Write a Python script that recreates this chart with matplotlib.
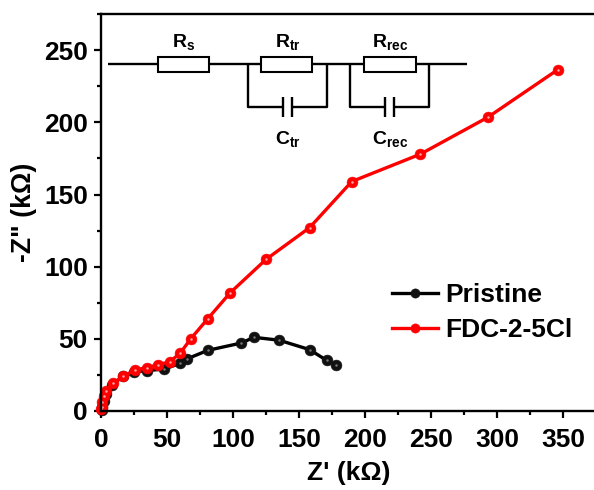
import numpy as np
import matplotlib
matplotlib.use("Agg")
import matplotlib.pyplot as plt
from matplotlib.patches import Rectangle
from matplotlib.ticker import MultipleLocator

plt.rcParams['font.family'] = ['Liberation Sans', 'DejaVu Sans']
plt.rcParams['font.weight'] = 'bold'
plt.rcParams['mathtext.fontset'] = 'custom'
plt.rcParams['mathtext.rm'] = 'Liberation Sans:bold'
plt.rcParams['mathtext.bf'] = 'Liberation Sans:bold'

pristine_x = [0.5, 1, 2, 3.5, 8, 17, 25, 35, 48, 60, 65, 81, 106, 116, 135, 158, 171, 178]
pristine_y = [0.5, 3, 7, 12, 18, 24, 27, 28, 29, 33, 36, 42, 47, 51, 49, 42.5, 35, 31.5]
fdc_x = [0.3, 0.6, 1, 2, 4, 9, 17, 26, 35, 43, 52, 60, 68, 81, 98, 125, 158, 190, 242, 293, 346]
fdc_y = [1, 3, 6, 10, 14, 19, 24, 28.5, 30, 32, 34, 40, 50, 64, 82, 105, 127, 159, 178, 203.5, 236.5]

W, H = 594, 490
fig = plt.figure(figsize=(W / 100, H / 100), dpi=100)
# right edge of the frame falls just outside the image, so no right spine shows
ax = fig.add_axes([101 / W, (H - 410.9) / H, (597 - 101) / W, (410.9 - 14.2) / H])

ax.plot(pristine_x, pristine_y, color='black', lw=2.4, marker='o', ms=7.8,
        mfc='#111111', mec='#111111', mew=0.4, label='Pristine', clip_on=False)
ax.plot(pristine_x, pristine_y, ls='none', marker='o', ms=1.8, color='#777777', mew=0, clip_on=False)
ax.plot(fdc_x, fdc_y, color='#ff0000', lw=2.4, marker='o', ms=7.8,
        mfc='#ff0000', mec='#ff0000', mew=0.4, label='FDC-2-5Cl', clip_on=False)
ax.plot(fdc_x, fdc_y, ls='none', marker='o', ms=1.8, color='#ffa8a8', mew=0, clip_on=False)

ax.set_xlim(0, 375.8)
ax.set_ylim(0, 275)
ax.xaxis.set_major_locator(MultipleLocator(50))
ax.xaxis.set_minor_locator(MultipleLocator(25))
ax.yaxis.set_major_locator(MultipleLocator(50))
ax.yaxis.set_minor_locator(MultipleLocator(25))
ax.spines['right'].set_visible(False)
for s in ['left', 'bottom', 'top']:
    ax.spines[s].set_linewidth(1.7)
ax.tick_params(which='major', length=5, width=1.6, labelsize=19)
ax.tick_params(axis='x', which='major', pad=7)
ax.tick_params(axis='y', which='major', pad=4.5)
ax.tick_params(which='minor', length=2.8, width=1.6)
ax.set_xlabel("Z' (k\u03a9)", fontsize=19, fontweight='bold', labelpad=7)
ax.set_ylabel('-Z" (k\u03a9)', fontsize=19.2, fontweight='bold', labelpad=5)

ax.legend(loc='upper left', bbox_to_anchor=(0.5867, 0.322), frameon=False, fontsize=19,
          handlelength=1.75, handletextpad=0.27, labelspacing=0.42, borderpad=0, borderaxespad=0,
          markerscale=0.85)

# circuit inset, drawn in pixel coords on top of the chart
ov = fig.add_axes([0, 0, 1, 1], facecolor='none')
ov.set_xlim(0, W)
ov.set_ylim(H, 0)
ov.axis('off')
wire = dict(color='black', lw=1.7, solid_capstyle='butt')
ov.plot([108, 467], [64.5, 64.5], **wire)
for x0, x1 in [(158, 209), (261, 312), (364, 416)]:
    ov.add_patch(Rectangle((x0, 57.5), x1 - x0, 14.5, fc='white', ec='black', lw=1.5, zorder=3))
for x0, x1, p0, p1 in [(248, 327, 282.5, 292), (350, 429, 385, 394)]:
    ov.plot([x0, x0, p0], [64.5, 107, 107], **wire)
    ov.plot([p1, x1, x1], [107, 107, 64.5], **wire)
    ov.plot([p0, p0], [97, 117], **wire)
    ov.plot([p1, p1], [97, 117], **wire)
for x, y, s in [(184, 42, r'$\mathregular{R_{s}}$'), (287.5, 42, r'$\mathregular{R_{tr}}$'),
                (390, 42, r'$\mathregular{R_{rec}}$'), (287.5, 139, r'$\mathregular{C_{tr}}$'),
                (390, 139, r'$\mathregular{C_{rec}}$')]:
    ov.text(x, y, s, fontsize=14, ha='center', va='center')

fig.savefig('out.png', dpi=100)
